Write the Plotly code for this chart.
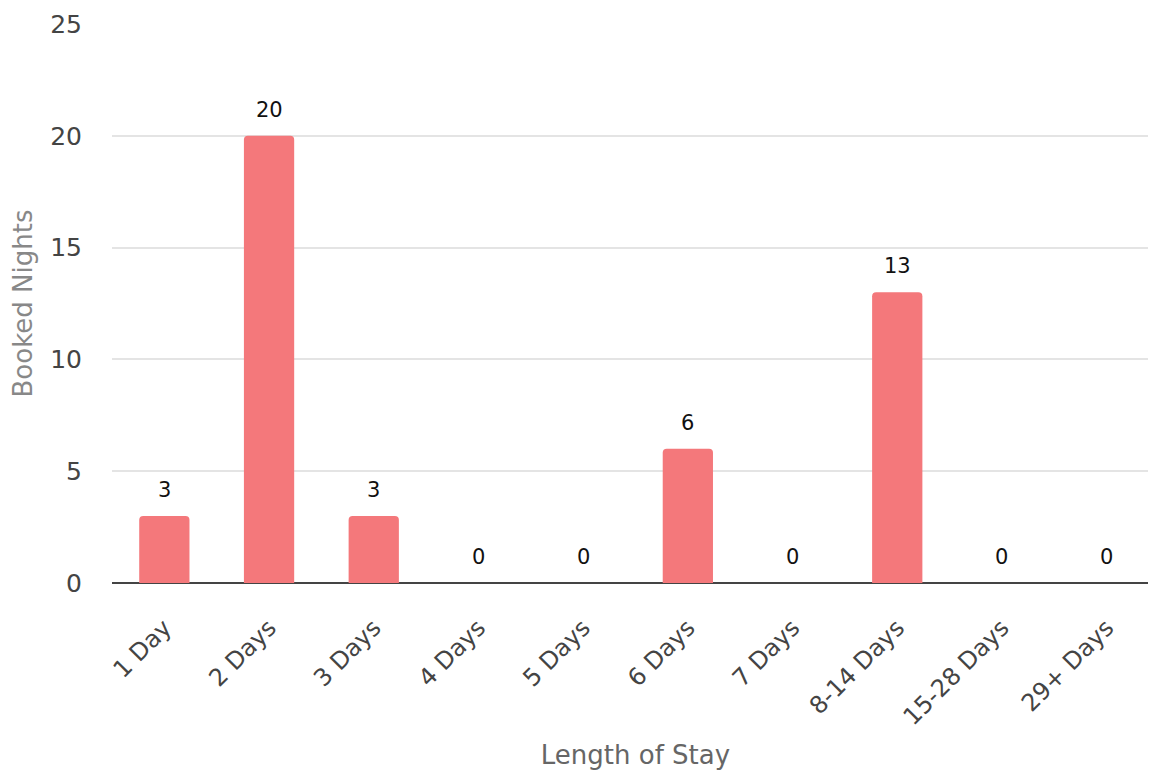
import plotly.graph_objects as go

categories = ["1 Day", "2 Days", "3 Days", "4 Days", "5 Days", "6 Days",
              "7 Days", "8-14 Days", "15-28 Days", "29+ Days"]
booked_nights = [3, 20, 3, 0, 0, 6, 0, 13, 0, 0]
y_ticks = [0, 5, 10, 15, 20, 25]

FONT = "DejaVu Sans"

fig = go.Figure()
fig.add_trace(go.Bar(
    x=categories, y=booked_nights,
    marker=dict(color="#F4787B", line=dict(width=0)),
    width=0.48,
    hoverinfo="x+y",
))

for c, v in zip(categories, booked_nights):
    fig.add_annotation(x=c, y=v, text=str(v), showarrow=False,
                       yanchor="bottom", yshift=12,
                       font=dict(family=FONT, size=21, color="#111111"))

fig.update_layout(
    width=1156, height=771,
    margin=dict(l=104, r=5, t=16, b=196),
    plot_bgcolor="white", paper_bgcolor="white",
    barcornerradius=4,
    showlegend=False,
    font=dict(family=FONT),
    xaxis=dict(
        automargin=False,
        tickangle=-45,
        tickfont=dict(family=FONT, size=24, color="#444444"),
        title=dict(text="Length of Stay", font=dict(family=FONT, size=26, color="#666666"), standoff=16),
        showgrid=False, showline=False, ticks="",
        ticklabelstandoff=25,
    ),
    yaxis=dict(
        automargin=False,
        range=[0, 25],
        tickvals=y_ticks,
        tickfont=dict(family=FONT, size=25, color="#444444"),
        title=dict(text="Booked Nights", font=dict(family=FONT, size=26, color="#888888"), standoff=13),
        showgrid=True, gridcolor="#E4E4E4", gridwidth=2,
        zeroline=True, zerolinecolor="#444444", zerolinewidth=2,
        ticks="", ticklabelstandoff=29,
    ),
)

fig.write_html("out.html")
